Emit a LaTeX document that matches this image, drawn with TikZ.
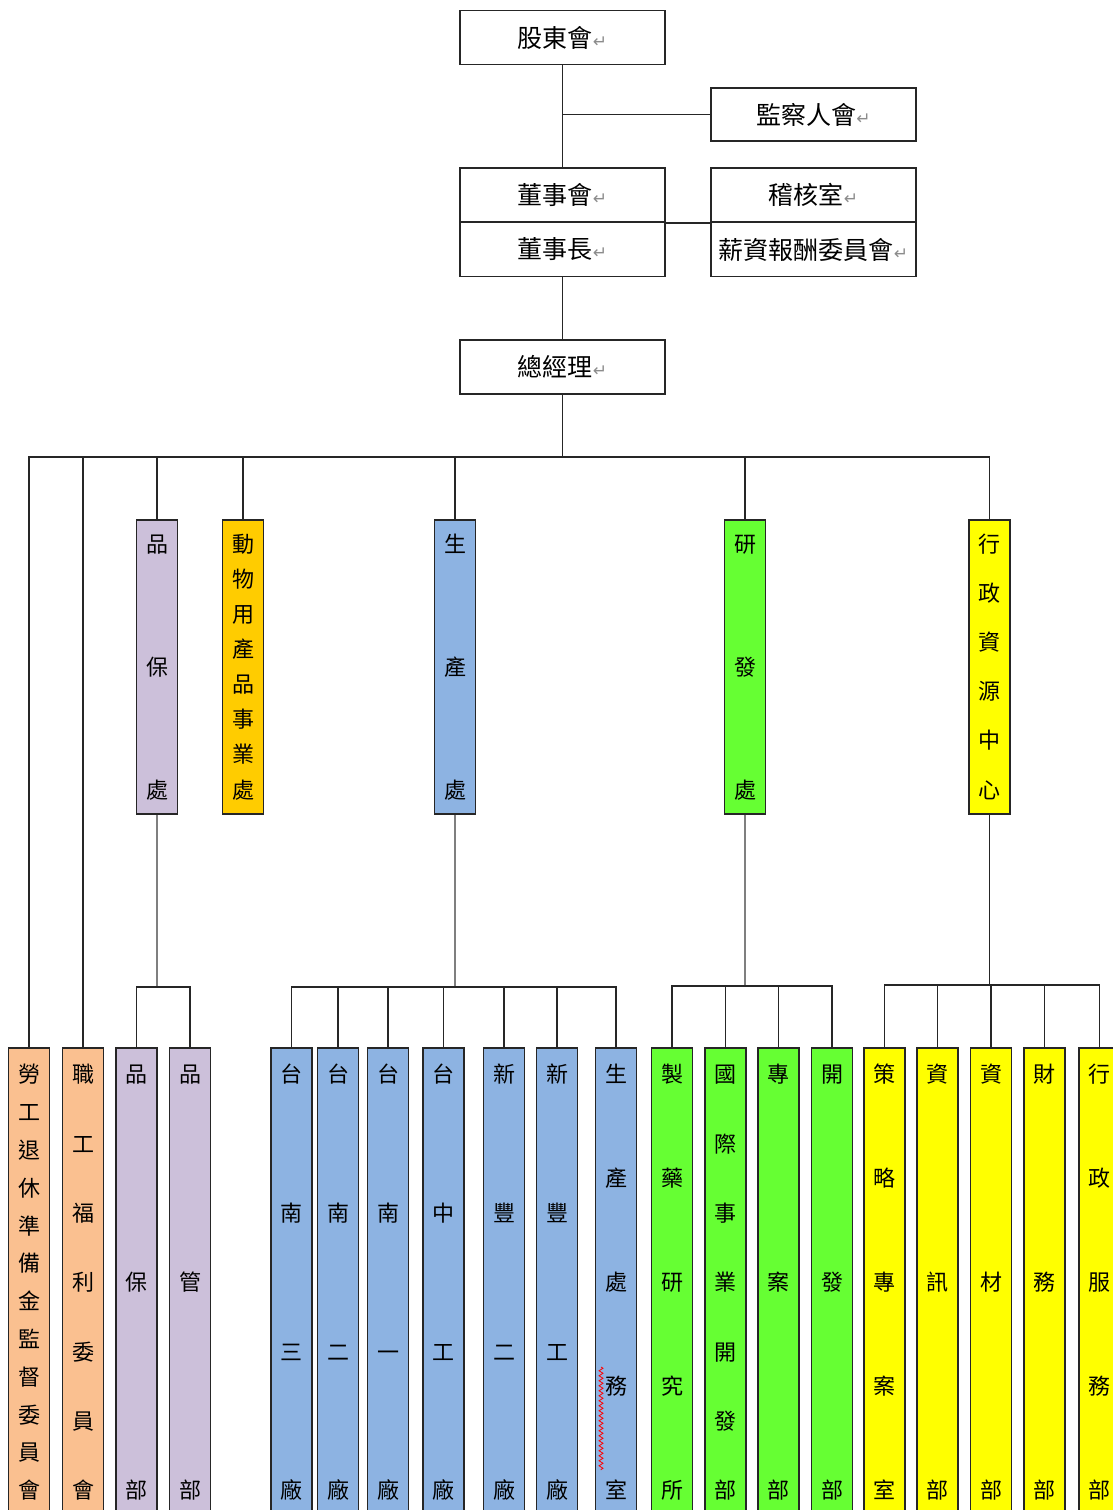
\documentclass[tikz,border=0pt]{standalone}
\usepackage{fontspec}
\setmainfont{Noto Sans CJK TC}
\newfontfamily\markfont{DejaVu Sans}
\usepackage{xcolor}
\usepackage{tikz}
\usetikzlibrary{decorations.pathmorphing}
\definecolor{hrfill}{HTML}{FAC090}
\definecolor{qafill}{HTML}{CCC0DA}
\definecolor{anifill}{HTML}{FFCC00}
\definecolor{prodfill}{HTML}{8DB3E2}
\definecolor{rdfill}{HTML}{66FF33}
\definecolor{admfill}{HTML}{FFFF00}
\definecolor{trunkdraw}{HTML}{7F7F7F}
\newcommand\topfont{\fontsize{25}{28}\selectfont}
\newcommand\colfont{\fontsize{22}{24}\selectfont}
\newcommand\retmark{{\markfont\color{black!45}\fontsize{17}{17}\selectfont ↵}}
\makeatletter
% one character per line, spread over the given height
\newcommand\colchars[2]{%
  \parbox[c][#1pt][s]{1em}{\offinterlineskip\let\cc@sep\relax
    \@tfor\cc@ch:=#2\do{\cc@sep\hbox to 1em{\hss\rule[-0.12em]{0pt}{1em}\cc@ch\hss}\let\cc@sep\vfill}}}
\makeatother
\newcommand\midtext[1]{\colchars{265}{#1}}
\newcommand\lowtext[1]{\colchars{435}{#1}}
\tikzset{
  blk/.style={rectangle, draw=black!85, line width=1.8pt, inner sep=0pt},
  topbox/.style={blk, minimum width=205, minimum height=54, font=\topfont},
  colbox/.style={blk, anchor=north, minimum width=41, font=\colfont},
  midbox/.style={colbox, minimum height=294},
  lowbox/.style={colbox, minimum height=469},
  link/.style={line width=1.8pt, draw=black!85},
  trunk/.style={line width=2.6pt, draw=trunkdraw},
}
\begin{document}
\begin{tikzpicture}[x=1pt, y=-1pt]
  \useasboundingbox (0,0) rectangle (1113,1510);
  \begin{scope}
  \clip (0,0) rectangle (1113,1510);

  % board
  \node[topbox] (sh) at (562.5,37.5) {股東會\retmark};
  \node[topbox, minimum height=53] (sup) at (813.5,114.5) {監察人會\retmark};
  \node[topbox] (bod) at (562.5,195) {董事會\retmark};
  \node[topbox] (chair) at (562.5,249.5) {董事長\retmark};
  \node[topbox] (aud) at (813.5,195) {稽核室\retmark};
  \node[topbox] (pay) at (813.5,249.5) {薪資報酬委員會\retmark};
  \node[topbox] (gm) at (562.5,367) {總經理\retmark};

  % divisions
  \node[midbox, fill=qafill] (qa) at (157,519) {\midtext{品保處}};
  \node[midbox, fill=anifill] (ani) at (243,519) {\midtext{動物用產品事業處}};
  \node[midbox, fill=prodfill] (prod) at (455,519) {\midtext{生產處}};
  \node[midbox, fill=rdfill] (rd) at (745,519) {\midtext{研發處}};
  \node[midbox, fill=admfill] (adm) at (989.5,519) {\midtext{行政資源中心}};

  % departments
  \node[lowbox, fill=hrfill] (lab) at (29,1047) {\lowtext{勞工退休準備金監督委員會}};
  \node[lowbox, fill=hrfill] (wel) at (83,1047) {\lowtext{職工福利委員會}};
  \node[lowbox, fill=qafill] (qa1) at (136.5,1047) {\lowtext{品保部}};
  \node[lowbox, fill=qafill] (qa2) at (190,1047) {\lowtext{品管部}};
  \node[lowbox, fill=prodfill] (pr1) at (291.5,1047) {\lowtext{台南三廠}};
  \node[lowbox, fill=prodfill] (pr2) at (338,1047) {\lowtext{台南二廠}};
  \node[lowbox, fill=prodfill] (pr3) at (388,1047) {\lowtext{台南一廠}};
  \node[lowbox, fill=prodfill] (pr4) at (443.5,1047) {\lowtext{台中工廠}};
  \node[lowbox, fill=prodfill] (pr5) at (504,1047) {\lowtext{新豐二廠}};
  \node[lowbox, fill=prodfill] (pr6) at (557,1047) {\lowtext{新豐工廠}};
  \node[lowbox, fill=prodfill] (pr7) at (616,1047) {\lowtext{生產處務室}};
  \node[lowbox, fill=rdfill] (rd1) at (672,1047) {\lowtext{製藥研究所}};
  \node[lowbox, fill=rdfill] (rd2) at (725.5,1047) {\lowtext{國際事業開發部}};
  \node[lowbox, fill=rdfill] (rd3) at (778.5,1047) {\lowtext{專案部}};
  \node[lowbox, fill=rdfill] (rd4) at (832,1047) {\lowtext{開發部}};
  \node[lowbox, fill=admfill] (ad1) at (884.5,1047) {\lowtext{策略專案室}};
  \node[lowbox, fill=admfill] (ad2) at (937.5,1047) {\lowtext{資訊部}};
  \node[lowbox, fill=admfill] (ad3) at (991,1047) {\lowtext{資材部}};
  \node[lowbox, fill=admfill] (ad4) at (1044.5,1047) {\lowtext{財務部}};
  \node[lowbox, fill=admfill] (ad5) at (1099.5,1047) {\lowtext{行政服務部}};

  % connectors
  \draw[link] (sh) -- (bod);
  \draw[link] (sup.west) -- (sup.west -| sh.south);
  \draw[link] (bod.south east) -- (aud.south west);
  \draw[link] (chair) -- (gm);
  \foreach \n in {lab,wel,qa,ani,prod,rd,adm}
    \draw[link] (gm.south) -- ++(0,62) -| (\n.north);

  \draw[trunk] (qa.south) -- ++(0,172) coordinate (qab);
  \foreach \n in {qa1,qa2}
    \draw[link] (qab) -| (\n.north);
  \draw[trunk] (prod.south) -- ++(0,172) coordinate (prb);
  \foreach \i in {1,...,7}
    \draw[link] (prb) -| (pr\i.north);
  \draw[trunk] (rd.south) -- ++(0,171) coordinate (rdb);
  \foreach \i in {1,...,4}
    \draw[link] (rdb) -| (rd\i.north);
  \draw[link] (adm.south) -- ++(0,170) coordinate (adb);
  \foreach \i in {1,...,5}
    \draw[link] (adb) -| (ad\i.north);

  % spell-check mark
  \draw[red, line width=0.8pt, decorate, decoration={zigzag, amplitude=2pt, segment length=5pt}] (601,1367) -- (601,1470);
  \end{scope}
\end{tikzpicture}
\end{document}
